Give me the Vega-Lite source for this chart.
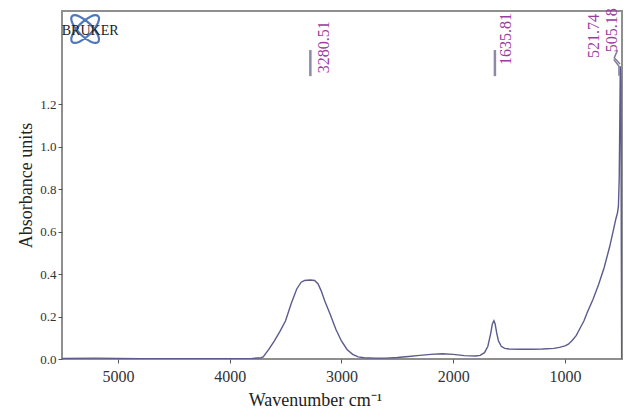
{
  "$schema": "https://vega.github.io/schema/vega-lite/v6.json",
  "autosize": {"type": "none"},
  "padding": {"left": 62, "top": 11, "right": 7, "bottom": 52},
  "width": 560,
  "height": 348,
  "background": "white",
  "config": {
    "view": {"stroke": "#8f8f8f", "strokeWidth": 2},
    "font": "Liberation Serif",
    "axis": {"domain": false, "grid": false, "tickColor": "#555", "tickSize": 4, "labelFont": "Liberation Serif", "labelColor": "#333", "titleFont": "Liberation Serif", "titleFontWeight": "normal", "titleColor": "#222"}
  },
  "datasets": {
    "spectrum": [
      {"wn": 5500, "a": 0.003}, {"wn": 5200, "a": 0.004}, {"wn": 5000, "a": 0.003}, {"wn": 4800, "a": 0.002},
      {"wn": 4500, "a": 0.001}, {"wn": 4200, "a": 0.002}, {"wn": 4000, "a": 0.002}, {"wn": 3800, "a": 0.003},
      {"wn": 3720, "a": 0.006}, {"wn": 3700, "a": 0.01}, {"wn": 3650, "a": 0.045}, {"wn": 3600, "a": 0.085},
      {"wn": 3550, "a": 0.13}, {"wn": 3500, "a": 0.18}, {"wn": 3450, "a": 0.26}, {"wn": 3400, "a": 0.33},
      {"wn": 3360, "a": 0.362}, {"wn": 3330, "a": 0.37}, {"wn": 3280, "a": 0.372}, {"wn": 3240, "a": 0.37},
      {"wn": 3210, "a": 0.355}, {"wn": 3180, "a": 0.32}, {"wn": 3150, "a": 0.275}, {"wn": 3100, "a": 0.21},
      {"wn": 3050, "a": 0.14}, {"wn": 3000, "a": 0.085}, {"wn": 2950, "a": 0.045}, {"wn": 2900, "a": 0.022},
      {"wn": 2850, "a": 0.01}, {"wn": 2800, "a": 0.006}, {"wn": 2700, "a": 0.004}, {"wn": 2600, "a": 0.004},
      {"wn": 2500, "a": 0.007}, {"wn": 2400, "a": 0.012}, {"wn": 2300, "a": 0.017}, {"wn": 2200, "a": 0.022},
      {"wn": 2100, "a": 0.025}, {"wn": 2000, "a": 0.022}, {"wn": 1900, "a": 0.016}, {"wn": 1800, "a": 0.014},
      {"wn": 1760, "a": 0.017}, {"wn": 1720, "a": 0.03}, {"wn": 1690, "a": 0.06}, {"wn": 1665, "a": 0.12},
      {"wn": 1650, "a": 0.165}, {"wn": 1636, "a": 0.18}, {"wn": 1625, "a": 0.165}, {"wn": 1610, "a": 0.12},
      {"wn": 1595, "a": 0.085}, {"wn": 1570, "a": 0.06}, {"wn": 1540, "a": 0.05}, {"wn": 1500, "a": 0.047},
      {"wn": 1400, "a": 0.046}, {"wn": 1300, "a": 0.046}, {"wn": 1200, "a": 0.047}, {"wn": 1100, "a": 0.05},
      {"wn": 1050, "a": 0.055}, {"wn": 1000, "a": 0.062}, {"wn": 970, "a": 0.07}, {"wn": 940, "a": 0.085},
      {"wn": 900, "a": 0.11}, {"wn": 870, "a": 0.14}, {"wn": 830, "a": 0.18}, {"wn": 800, "a": 0.22},
      {"wn": 750, "a": 0.28}, {"wn": 700, "a": 0.35}, {"wn": 650, "a": 0.43}, {"wn": 600, "a": 0.53},
      {"wn": 570, "a": 0.6}, {"wn": 545, "a": 0.66}, {"wn": 530, "a": 0.69}, {"wn": 522, "a": 0.72},
      {"wn": 515, "a": 0.85}, {"wn": 510, "a": 1.1}, {"wn": 505, "a": 1.38}, {"wn": 500, "a": 1.3},
      {"wn": 496, "a": 0.5}, {"wn": 493, "a": 0.0}
    ],
    "bars": [
      {"wn": 3278, "y1": 1.333, "y2": 1.456},
      {"wn": 1627, "y1": 1.333, "y2": 1.456}
    ],
    "leaders": [
      {"id": "a", "o": 1, "wn": 564, "a": 1.412}, {"id": "a", "o": 2, "wn": 517, "a": 1.38}, {"id": "a", "o": 3, "wn": 517, "a": 1.335},
      {"id": "b", "o": 1, "wn": 530, "a": 1.455}, {"id": "b", "o": 2, "wn": 559, "a": 1.42}, {"id": "b", "o": 3, "wn": 508, "a": 1.39}
    ],
    "labels": [
      {"wn": 3153, "a": 1.347, "t": "3280.51"},
      {"wn": 1529, "a": 1.385, "t": "1635.81"},
      {"wn": 740, "a": 1.418, "t": "521.74"},
      {"wn": 576, "a": 1.446, "t": "505.18"}
    ],
    "logo": [{"wn": 5293, "a": 1.555}],
    "brand": [{"wn": 5248, "a": 1.527, "t": "BRUKER"}]
  },
  "layer": [
    {
      "data": {"name": "spectrum"},
      "mark": {"type": "line", "color": "#5b5b8c", "strokeWidth": 1.4, "clip": true},
      "encoding": {
        "x": {"field": "wn", "type": "quantitative", "sort": null,
          "scale": {"domain": [5500, 490], "nice": false, "zero": false},
          "axis": {"values": [5000, 4000, 3000, 2000, 1000], "format": "d", "labelFontSize": 16, "labelPadding": 5,
            "title": "Wavenumber cm⁻¹", "titleFontSize": 18, "titleX": 253, "titleY": 46, "titleBaseline": "alphabetic", "titleAnchor": null}},
        "y": {"field": "a", "type": "quantitative",
          "scale": {"domain": [0, 1.64], "nice": false, "zero": false},
          "axis": {"values": [0, 0.2, 0.4, 0.6, 0.8, 1.0, 1.2], "format": ".1f", "labelFontSize": 13, "labelPadding": 2,
            "title": "Absorbance units", "titleFontSize": 18, "titleX": -36, "titleY": 174, "titleAngle": -90, "titleBaseline": "middle", "titleAlign": "center", "titleAnchor": null}},
        "order": {"value": 0}
      }
    },
    {
      "data": {"name": "bars"},
      "mark": {"type": "rule", "color": "#8d8aa8", "strokeWidth": 2.5},
      "encoding": {
        "x": {"field": "wn", "type": "quantitative"},
        "y": {"field": "y1", "type": "quantitative"},
        "y2": {"field": "y2"}
      }
    },
    {
      "data": {"name": "leaders"},
      "mark": {"type": "line", "color": "#7d7a99", "strokeWidth": 1.5},
      "encoding": {
        "x": {"field": "wn", "type": "quantitative"},
        "y": {"field": "a", "type": "quantitative"},
        "detail": {"field": "id"},
        "order": {"field": "o"}
      }
    },
    {
      "data": {"name": "labels"},
      "mark": {"type": "text", "angle": 270, "align": "left", "baseline": "middle", "fontSize": 16, "color": "#9a3da0", "font": "Liberation Serif"},
      "encoding": {
        "x": {"field": "wn", "type": "quantitative"},
        "y": {"field": "a", "type": "quantitative"},
        "text": {"field": "t"}
      }
    },
    {
      "data": {"name": "logo"},
      "mark": {"type": "point", "filled": false, "color": "#3c6ab4", "strokeWidth": 2.2, "opacity": 0.9, "size": 1296,
        "shape": "M -0.72,-0.72 A 1 0.38 45 0 1 0.72,0.72 A 1 0.38 45 0 1 -0.72,-0.72 M 0.72,-0.72 A 1 0.38 -45 0 1 -0.72,0.72 A 1 0.38 -45 0 1 0.72,-0.72"},
      "encoding": {
        "x": {"field": "wn", "type": "quantitative"},
        "y": {"field": "a", "type": "quantitative"}
      }
    },
    {
      "data": {"name": "brand"},
      "mark": {"type": "text", "align": "center", "baseline": "alphabetic", "fontSize": 14, "color": "#222", "font": "Liberation Serif"},
      "encoding": {
        "x": {"field": "wn", "type": "quantitative"},
        "y": {"field": "a", "type": "quantitative"},
        "text": {"field": "t"}
      }
    }
  ]
}
